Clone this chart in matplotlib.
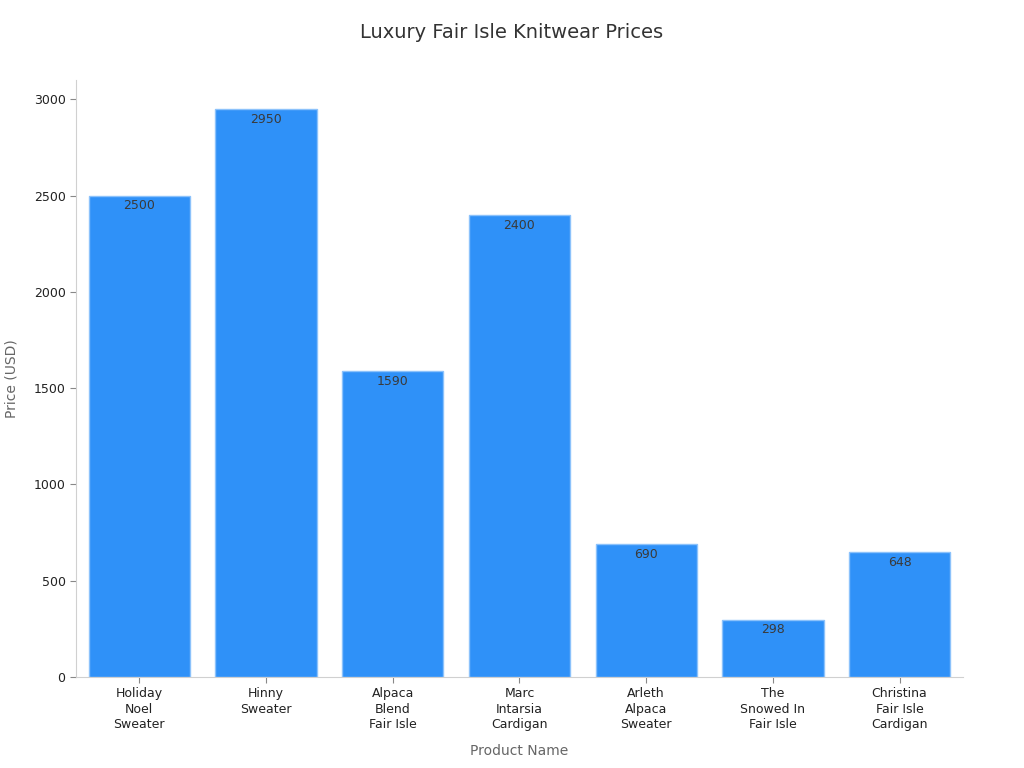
import matplotlib.pyplot as plt

# dados
produtos = ['Holiday\nNoel\nSweater', 'Hinny\nSweater', 'Alpaca\nBlend\nFair Isle',
            'Marc\nIntarsia\nCardigan', 'Arleth\nAlpaca\nSweater', 'The\nSnowed In\nFair Isle',
            'Christina\nFair Isle\nCardigan']
precos = [2500, 2950, 1590, 2400, 690, 298, 648]

fig = plt.figure(figsize=(10.24, 7.68), dpi=100)
ax = fig.add_axes([0.0742, 0.1185, 0.8662, 0.7773])

barras = ax.bar(range(len(precos)), precos, width=0.8, color='#2f91f8',
                edgecolor='#8cc2fb', linewidth=1)

for i, v in enumerate(precos):
    ax.text(i, v - 20, str(v), ha='center', va='top', fontsize=9, color='#3a3a3a')

ax.set_xticks(range(len(produtos)))
ax.set_xticklabels(produtos, fontsize=9, color='#222222', linespacing=1.25)
ax.set_xlim(-0.5, 6.5)
ax.set_ylim(0, 3100)
ax.set_yticks([0, 500, 1000, 1500, 2000, 2500, 3000])
ax.tick_params(axis='y', labelsize=9, labelcolor='#222222', color='#888888', length=4)
ax.tick_params(axis='x', color='#888888', length=4)

for s in ['top', 'right']:
    ax.spines[s].set_visible(False)
for s in ['left', 'bottom']:
    ax.spines[s].set_color('#d0d0d0')

ax.set_xlabel('Product Name', fontsize=10, color='#666666', labelpad=9)
ax.set_ylabel('Price (USD)', fontsize=10, color='#666666', labelpad=11)
fig.suptitle('Luxury Fair Isle Knitwear Prices', fontsize=14, color='#333333', y=0.97)

fig.savefig('out.png', dpi=100)
